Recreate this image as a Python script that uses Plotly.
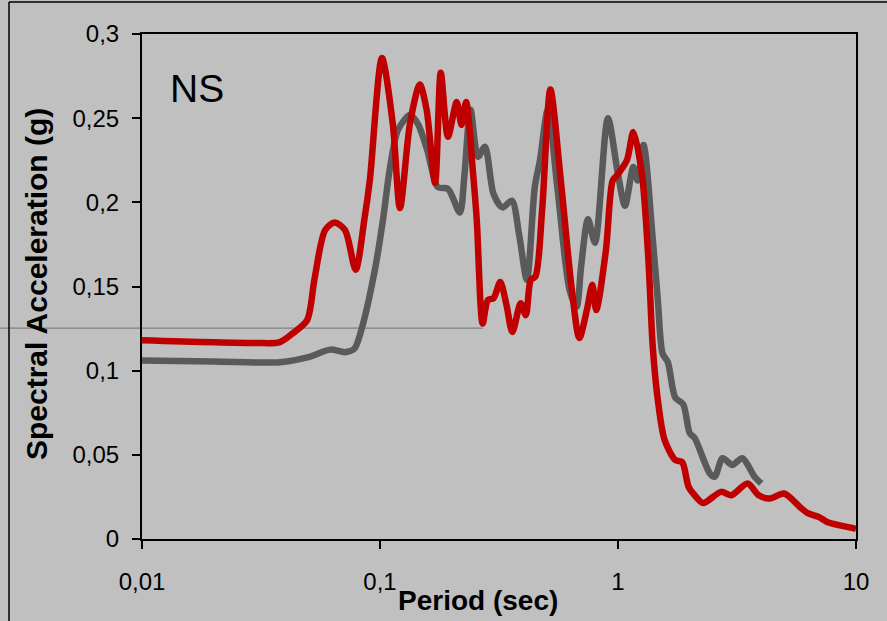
import plotly.graph_objects as go

# Gray series (period in sec, spectral acceleration in g)
gray_period = [0.01, 0.02, 0.038, 0.05, 0.0617, 0.0713, 0.078, 0.0838, 0.0952, 0.103, 0.11, 0.119,
               0.134, 0.145, 0.158, 0.175, 0.193, 0.2165, 0.226, 0.24, 0.258, 0.276, 0.30, 0.327,
               0.358, 0.385, 0.414, 0.447, 0.47, 0.507, 0.556, 0.626, 0.67, 0.70, 0.748, 0.80,
               0.907, 0.999, 1.07, 1.16, 1.21, 1.28, 1.40, 1.47, 1.54, 1.62, 1.74, 1.88, 2.0,
               2.1, 2.43, 2.55, 2.75, 3.02, 3.33, 3.75, 4.0]
gray_sa = [0.106, 0.1055, 0.105, 0.108, 0.1125, 0.111, 0.113, 0.125, 0.16, 0.19, 0.22, 0.243,
           0.252, 0.246, 0.231, 0.209, 0.208, 0.194, 0.215, 0.255, 0.227, 0.233, 0.205, 0.197,
           0.201, 0.18, 0.154, 0.209, 0.225, 0.255, 0.209, 0.148, 0.138, 0.162, 0.19, 0.176,
           0.25, 0.217, 0.198, 0.221, 0.213, 0.234, 0.178, 0.142, 0.11, 0.105, 0.084, 0.08, 0.063,
           0.06, 0.039, 0.037, 0.048, 0.044, 0.048, 0.037, 0.033]

# Red series
red_period = [0.01, 0.0304, 0.038, 0.0431, 0.0494, 0.053, 0.0588, 0.0645, 0.0713, 0.079, 0.086,
              0.0906, 0.1019, 0.1131, 0.1213, 0.1337, 0.147, 0.157, 0.1703, 0.18, 0.193, 0.21,
              0.22, 0.23, 0.246, 0.255, 0.27, 0.284, 0.30, 0.32, 0.34, 0.36, 0.39, 0.41, 0.43,
              0.45, 0.48, 0.52, 0.571, 0.61, 0.64, 0.688, 0.74, 0.78, 0.81, 0.89, 0.95, 0.99,
              1.09, 1.16, 1.26, 1.34, 1.40, 1.47, 1.57, 1.74, 1.86, 1.98, 2.1, 2.28, 2.71, 3.0,
              3.5, 3.9, 4.34, 4.99, 5.81, 6.26, 7.0, 7.6, 9.7, 10.0]
red_sa = [0.118, 0.1164, 0.117, 0.1223, 0.13, 0.154, 0.1835, 0.188, 0.1835, 0.16, 0.19,
          0.213, 0.2857, 0.247, 0.1966, 0.247, 0.27, 0.255, 0.2115, 0.277, 0.239, 0.2596,
          0.246, 0.2596, 0.2174, 0.1895, 0.128, 0.142, 0.143, 0.1527, 0.139, 0.123, 0.140, 0.133, 0.154,
          0.156, 0.1955, 0.267, 0.2174, 0.176, 0.148, 0.1194, 0.136, 0.151, 0.136, 0.1717, 0.213, 0.216,
          0.225, 0.2418, 0.217, 0.1675, 0.114, 0.0826, 0.0588, 0.047, 0.0457, 0.031, 0.026, 0.0214, 0.028, 0.026,
          0.033, 0.026, 0.024, 0.027, 0.019, 0.0154, 0.013, 0.010, 0.0065, 0.006]

x_tickvals = [0.01, 0.1, 1, 10]
x_ticktext = ["0,01", "0,1", "1", "10"]
y_tickvals = [0, 0.05, 0.1, 0.15, 0.2, 0.25, 0.3]
y_ticktext = ["0", "0,05", "0,1", "0,15", "0,2", "0,25", "0,3"]

BG = "#c0c0c0"
FONT = "Liberation Sans, Arial, sans-serif"

fig = go.Figure()
fig.add_trace(go.Scatter(x=gray_period, y=gray_sa, mode="lines",
                         line=dict(color="#5a5a5a", width=6.5, shape="spline", smoothing=0.8),
                         showlegend=False, hoverinfo="skip"))
fig.add_trace(go.Scatter(x=red_period, y=red_sa, mode="lines",
                         line=dict(color="#c00000", width=6.5, shape="spline", smoothing=0.8),
                         showlegend=False, hoverinfo="skip"))

fig.update_layout(
    width=887, height=621,
    margin=dict(l=142, r=31, t=34, b=82),
    paper_bgcolor=BG, plot_bgcolor="rgba(0,0,0,0)",
    font=dict(family=FONT, size=24, color="black"),
    xaxis=dict(type="log", range=[-2, 1], tickvals=x_tickvals, ticktext=x_ticktext,
               showgrid=False, zeroline=False, showline=True, linecolor="black", linewidth=2,
               mirror=True, ticks="outside", ticklen=8, tickwidth=1.5, tickcolor="black",
               ticklabelstandoff=12, tickfont=dict(size=24)),
    yaxis=dict(range=[0, 0.3], tickvals=y_tickvals, ticktext=y_ticktext,
               showgrid=False, zeroline=False, showline=True, linecolor="black", linewidth=2,
               mirror=True, ticks="outside", ticklen=8, tickwidth=1.5, tickcolor="black",
               ticklabelstandoff=8, tickfont=dict(size=24)),
    annotations=[
        dict(text="NS", x=0.037, y=0.893, xref="paper", yref="paper", xanchor="left",
             yanchor="middle", showarrow=False, font=dict(size=39, family=FONT)),
        dict(text="<b>Period (sec)</b>", x=0.4706, y=-0.121, xref="paper", yref="paper",
             xanchor="center", yanchor="middle", showarrow=False, font=dict(size=28, family=FONT)),
        dict(text="<b>Spectral Acceleration (g)</b>", x=-0.147, y=0.505, xref="paper", yref="paper",
             xanchor="center", yanchor="middle", textangle=-90, showarrow=False,
             font=dict(size=30, family=FONT)),
    ],
    shapes=[
        dict(type="line", xref="paper", yref="y", x0=-142 / 714, x1=(483 - 142) / 714,
             y0=0.1253, y1=0.1253, line=dict(color="#808080", width=1.2), layer="below"),
        dict(type="line", xref="paper", yref="paper", x0=-133 / 714, x1=1.1,
             y0=537 / 505, y1=537 / 505, line=dict(color="black", width=1.5)),
        dict(type="line", xref="paper", yref="paper", x0=-133 / 714, x1=-133 / 714,
             y0=-0.3, y1=537 / 505, line=dict(color="black", width=1.5)),
    ],
)

fig.write_html("out.html", config={"displayModeBar": False},
               post_script="document.body.style.margin='0px';document.body.style.padding='0px';document.body.style.overflow='hidden';")
